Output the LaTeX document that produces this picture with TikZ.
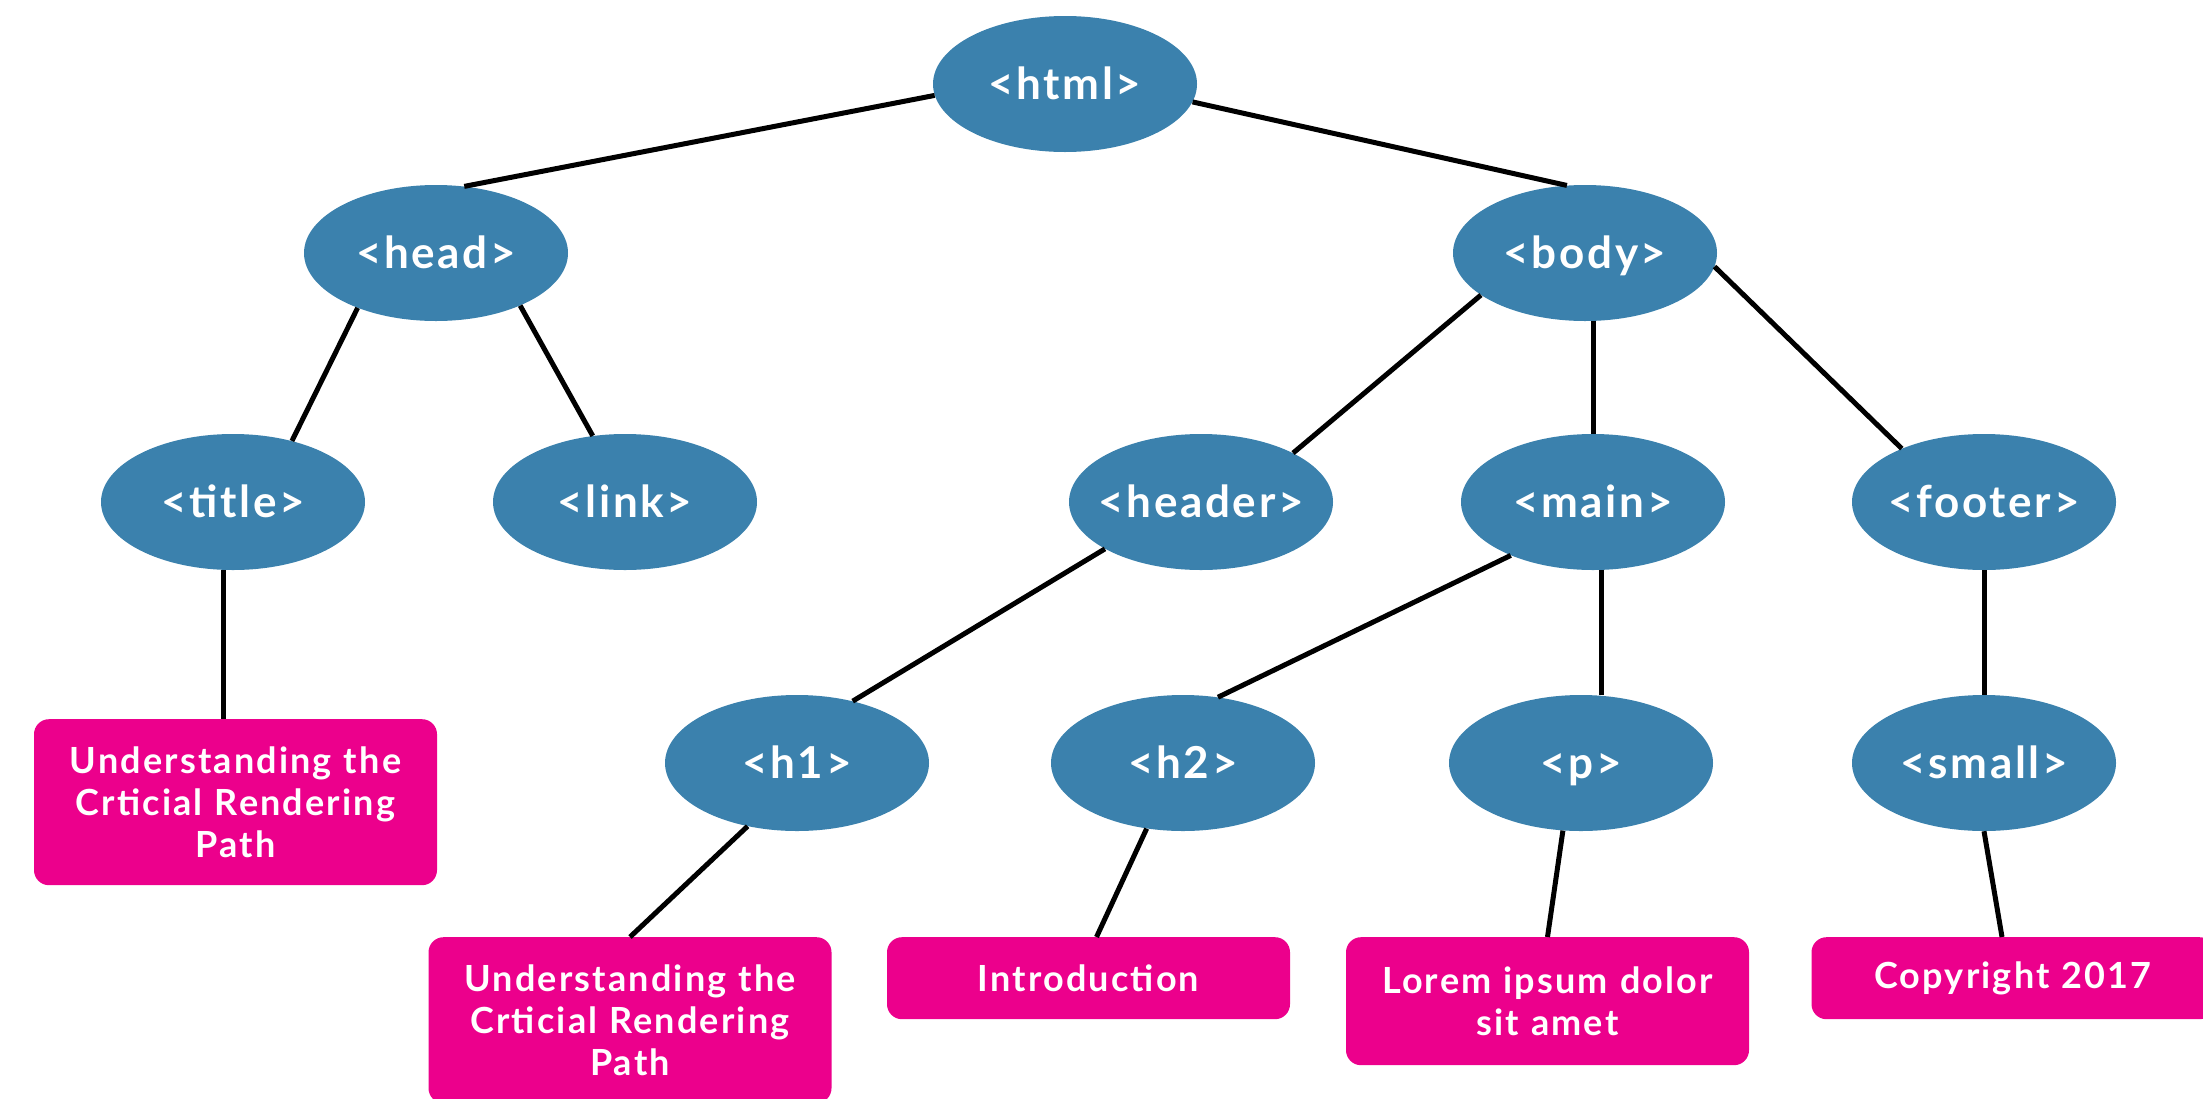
\documentclass[tikz,border=0pt]{standalone}
\usepackage{fontspec}
\setmainfont{Lato}
\newfontfamily\tagfont[LetterSpace=6]{Lato}
\usepackage{tikz}
\usetikzlibrary{shapes.geometric, positioning, calc}
\definecolor{tagblue}{HTML}{3B81AD}
\definecolor{textpink}{HTML}{EC008C}
\tikzstyle{edge} = [line width=5pt, black]

\begin{document}
\begin{tikzpicture}[x=1pt, y=-1pt,
    tag/.style={ellipse, fill=tagblue, text=white, minimum width=264pt, minimum height=136pt, inner sep=0pt, inner xsep=-25pt, text height=35pt, text depth=5pt, font=\tagfont\fontsize{44}{52}\selectfont\bfseries},
    textbox/.style={rectangle, rounded corners=15pt, fill=textpink, text=white, minimum width=403pt, text width=390pt, align=center, anchor=north, inner sep=0pt, font=\tagfont\fontsize{36}{42}\selectfont\bfseries}
  ]
    \useasboundingbox (0,0) rectangle (2203,1098);

    % root and first level
    \node[tag] (html) at (1065,84) {<html>};
    \node[tag] (head) at (436,253) {<head>};
    \node[tag] (body) at (1585,253) {<body>};

    % second level
    \node[tag] (title) at (233,502) {<title>};
    \node[tag] (link) at (625,502) {<link>};
    \node[tag] (header) at (1201,502) {<header>};
    \node[tag] (main) at (1593,502) {<main>};
    \node[tag] (footer) at (1984,502) {<footer>};

    % third level
    \node[tag] (h1) at (797,763) {<h1>};
    \node[tag] (h2) at (1183,763) {<h2>};
    \node[tag] (p) at (1581,763) {<p>};
    \node[tag] (small) at (1984,763) {<small>};

    % text content
    \node[textbox, minimum height=166pt] (titletext) at (235.5,719) {Understanding the\\ Crticial Rendering\\ Path};
    \node[textbox, minimum height=166pt] (h1text) at (630,937) {Understanding the\\ Crticial Rendering\\ Path};
    \node[textbox, minimum height=82pt] (h2text) at (1088.5,937) {Introduction};
    \node[textbox, minimum height=128pt] (ptext) at (1547.5,937) {Lorem ipsum dolor\\ sit amet};
    \node[textbox, minimum height=82pt] (smalltext) at (2013,937) {Copyright 2017};

    % connectors
    \draw[edge] (html.185) -- (head.67);
    \draw[edge] (html.352) -- (body.105);
    \draw[edge] (head.215) -- (title.46);
    \draw[edge] (head.328) -- (link.116);
    \draw[edge] (body.202) -- (header.28);
    \draw[edge] (main.north) -- (main.north |- body.south);
    \draw[edge] (body.354) -- (footer.147);
    \draw[edge] (header.206) -- (h1.48);
    \draw[edge] (main.213) -- (h2.62);
    \draw[edge] (main.277) -- (main.277 |- p.north);
    \draw[edge] (footer.south) -- (small.north);
    \draw[edge] (title.262) -- (title.262 |- titletext.north);
    \draw[edge] (h1.232) -- (h1text.north);
    \draw[edge] (h2.241) -- ([xshift=8pt]h2text.north);
    \draw[edge] (p.255) -- (ptext.north);
    \draw[edge] (small.south) -- ([xshift=-11pt]smalltext.north);
  \end{tikzpicture}
\end{document}
